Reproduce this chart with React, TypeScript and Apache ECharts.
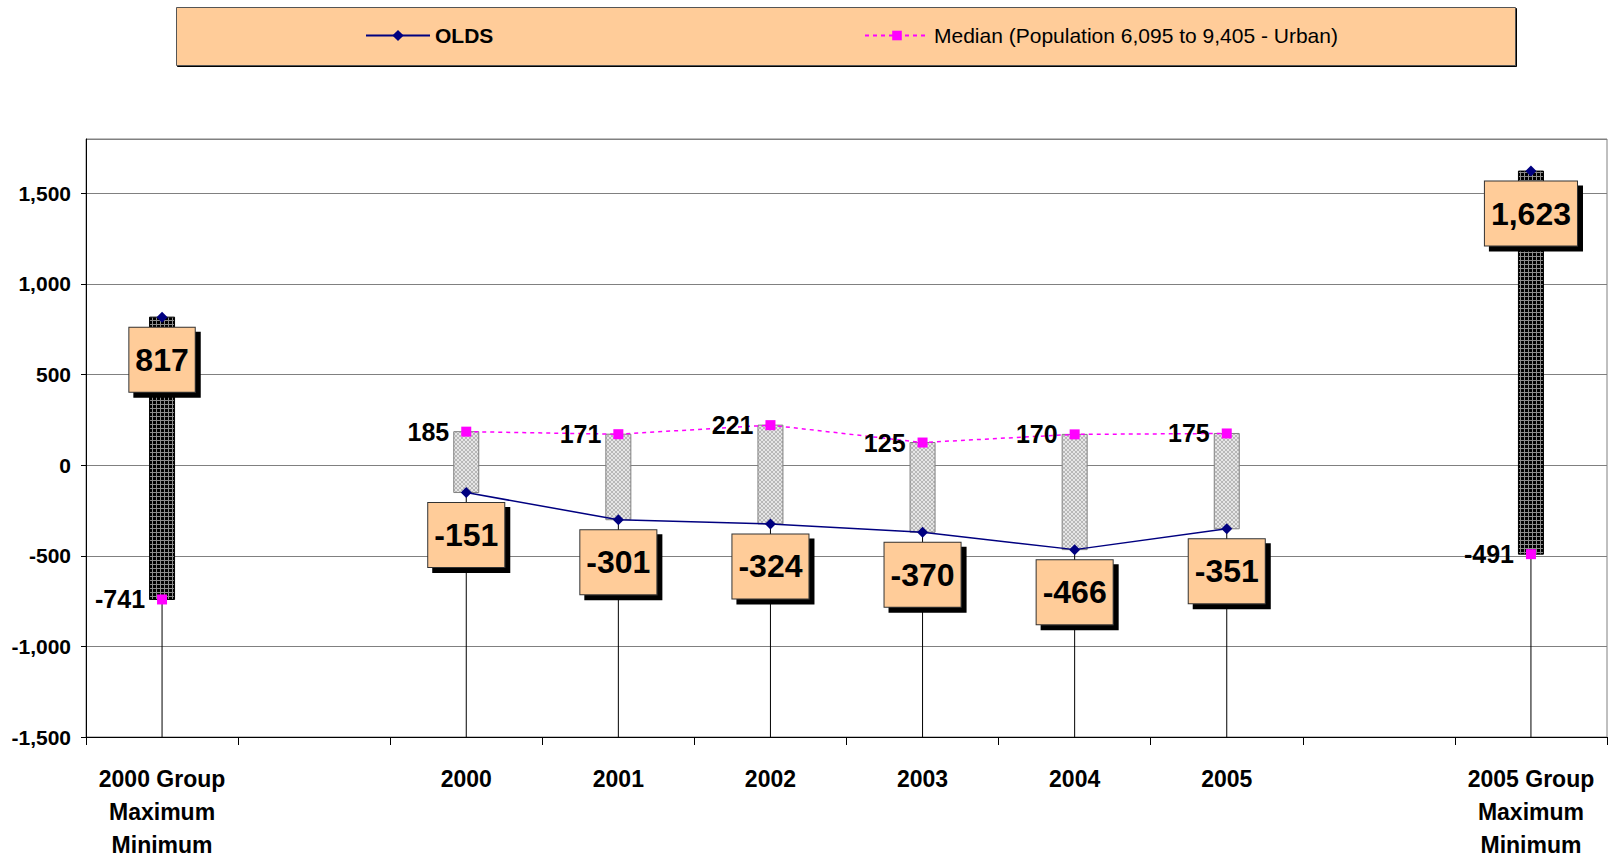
import React, { useEffect, useRef } from 'react';
import * as echarts from 'echarts';

const categories = [
  '2000 Group\nMaximum\nMinimum',
  '',
  '2000',
  '2001',
  '2002',
  '2003',
  '2004',
  '2005',
  '',
  '2005 Group\nMaximum\nMinimum',
];
const oldsValues: (number | null)[] = [817, null, -151, -301, -324, -370, -466, -351, null, 1623];
const medianValues: (number | null)[] = [-741, null, 185, 171, 221, 125, 170, 175, null, -491];

const Y_MIN = -1500;
const Y_MAX = 1800;
const Y_INTERVAL = 500;

const OLDS_NAME = 'OLDS';
const MEDIAN_NAME = 'Median (Population 6,095 to 9,405 - Urban)';

const FONT = "Arial, 'Liberation Sans', sans-serif";
const fmt = (v: number) => Number(v).toLocaleString('en-US');

function makePattern(draw: (ctx: CanvasRenderingContext2D) => void, size: number) {
  const c = document.createElement('canvas');
  c.width = size;
  c.height = size;
  const ctx = c.getContext('2d') as CanvasRenderingContext2D;
  draw(ctx);
  return c;
}

export default function App() {
  const ref = useRef<HTMLDivElement>(null);

  useEffect(() => {
    if (!ref.current) return;
    const chart = echarts.init(ref.current, null, { renderer: 'svg' });

    const darkCanvas = makePattern((ctx) => {
      ctx.fillStyle = '#000000';
      ctx.fillRect(0, 0, 4, 4);
      ctx.fillStyle = '#8c8c8c';
      ctx.fillRect(0, 0, 4, 1);
      ctx.fillRect(0, 0, 1, 4);
    }, 4);
    const lightCanvas = makePattern((ctx) => {
      ctx.fillStyle = '#e6e6e6';
      ctx.fillRect(0, 0, 4, 4);
      ctx.fillStyle = '#b8b8b8';
      for (let k = 0; k < 4; k++) {
        ctx.fillRect(k, k, 1, 1);
        ctx.fillRect(3 - k, k, 1, 1);
      }
    }, 4);
    const darkFill: any = { image: darkCanvas, repeat: 'repeat', imageWidth: 4, imageHeight: 4 };
    const lightFill: any = { image: lightCanvas, repeat: 'repeat', imageWidth: 4, imageHeight: 4 };

    const boxData: number[][] = [];
    categories.forEach((_, i) => {
      const o = oldsValues[i];
      const m = medianValues[i];
      if (o != null && m != null) {
        boxData.push([i, Math.min(o, m), Math.max(o, m), o > m ? 1 : 0]);
      }
    });

    const renderItem = (params: any, api: any) => {
      const i = api.value(0);
      const lo = api.value(1);
      const hi = api.value(2);
      const up = api.value(3) === 1;
      const base = api.coord([i, Y_MIN]);
      const pLo = api.coord([i, lo]);
      const pHi = api.coord([i, hi]);
      const w = 25;
      return {
        type: 'group',
        children: [
          {
            type: 'line',
            shape: { x1: base[0], y1: base[1], x2: pLo[0], y2: pLo[1] },
            style: { stroke: '#000', lineWidth: 1 },
          },
          {
            type: 'rect',
            shape: { x: pHi[0] - w / 2, y: pHi[1], width: w, height: pLo[1] - pHi[1] },
            style: {
              fill: up ? darkFill : lightFill,
              stroke: up ? '#000' : '#808080',
              lineWidth: 1,
            },
          },
        ],
      };
    };

    chart.setOption({
      animation: false,
      backgroundColor: '#ffffff',
      textStyle: { fontFamily: FONT },
      graphic: [
        {
          type: 'rect',
          left: 176,
          top: 7,
          z: 0,
          shape: { width: 1339, height: 58 },
          style: {
            fill: '#FFCC99',
            stroke: '#555',
            lineWidth: 1,
            shadowColor: '#000',
            shadowBlur: 0,
            shadowOffsetX: 1,
            shadowOffsetY: 1,
          },
        },
      ],
      legend: [
        {
          data: [OLDS_NAME],
          left: 365,
          top: 25,
          padding: 0,
          itemWidth: 64,
          itemHeight: 14,
          selectedMode: false,
          textStyle: { fontSize: 21, fontWeight: 'bold', color: '#000', fontFamily: FONT },
        },
        {
          data: [MEDIAN_NAME],
          left: 864,
          top: 25,
          padding: 0,
          itemWidth: 64,
          itemHeight: 12,
          selectedMode: false,
          textStyle: { fontSize: 21, color: '#000', fontFamily: FONT },
        },
      ],
      grid: {
        left: 86,
        right: 1,
        top: 139,
        bottom: 117,
        show: true,
        borderColor: '#808080',
        borderWidth: 1,
      },
      xAxis: {
        type: 'category',
        data: categories,
        boundaryGap: true,
        axisLine: { onZero: false, lineStyle: { color: '#000', width: 1 } },
        axisTick: { show: true, interval: 0, length: 8, lineStyle: { color: '#000' } },
        axisLabel: {
          interval: 0,
          fontSize: 23,
          fontWeight: 'bold',
          color: '#000',
          lineHeight: 33,
          margin: 25,
          fontFamily: FONT,
        },
        splitLine: { show: false },
      },
      yAxis: {
        type: 'value',
        min: Y_MIN,
        max: Y_MAX,
        interval: Y_INTERVAL,
        axisLine: { show: true, lineStyle: { color: '#000' } },
        axisTick: { show: true, length: 5, lineStyle: { color: '#000' } },
        axisLabel: {
          fontSize: 21,
          fontWeight: 'bold',
          color: '#000',
          margin: 15,
          showMaxLabel: false,
          fontFamily: FONT,
          formatter: (v: number) => (v === Y_MAX ? '' : fmt(v)),
        },
        splitLine: { lineStyle: { color: '#808080', width: 1 } },
      },
      series: [
        {
          type: 'custom',
          name: 'range',
          z: 1,
          silent: true,
          renderItem,
          data: boxData,
          encode: { x: 0, y: [1, 2] },
        },
        {
          type: 'line',
          name: MEDIAN_NAME,
          data: medianValues,
          z: 2,
          connectNulls: false,
          symbol: 'rect',
          symbolSize: 10,
          itemStyle: { color: '#FF00FF' },
          lineStyle: { color: '#FF00FF', width: 1.5, type: [4, 4] },
          label: {
            show: true,
            position: 'left',
            distance: 12,
            fontSize: 25,
            fontWeight: 'bold',
            color: '#000',
            fontFamily: FONT,
            formatter: (p: any) => fmt(p.value),
          },
        },
        {
          type: 'line',
          name: OLDS_NAME,
          data: oldsValues,
          z: 3,
          connectNulls: false,
          symbol: 'diamond',
          symbolSize: 11,
          itemStyle: { color: '#000080' },
          lineStyle: { color: '#000080', width: 1.5 },
          label: {
            show: true,
            position: 'bottom',
            distance: 5,
            fontSize: 32,
            lineHeight: 32,
            fontWeight: 'bold',
            color: '#000',
            fontFamily: FONT,
            backgroundColor: '#FFCC99',
            borderColor: '#333',
            borderWidth: 1,
            padding: [16, 6, 16, 6],
            shadowColor: '#000',
            shadowBlur: 0,
            shadowOffsetX: 5,
            shadowOffsetY: 5,
            formatter: (p: any) => fmt(p.value),
          },
        },
      ],
    });

    return () => chart.dispose();
  }, []);

  return (
    <div
      ref={ref}
      style={{ position: 'fixed', left: 0, top: 0, width: 1608, height: 861, background: '#fff' }}
    />
  );
}
